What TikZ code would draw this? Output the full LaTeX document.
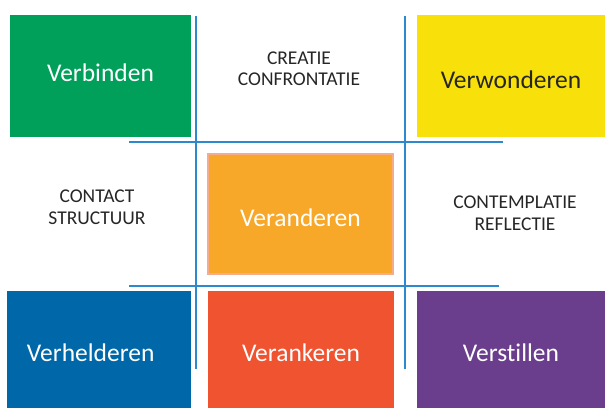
\documentclass[tikz,border=0pt]{standalone}
\usepackage{fontspec}
\setmainfont[Ligatures=NoCommon]{Carlito}
\definecolor{groen}{RGB}{0,160,90}
\definecolor{geel}{RGB}{248,224,10}
\definecolor{oranje}{RGB}{247,168,41}
\definecolor{zalm}{RGB}{244,172,140}
\definecolor{rood}{RGB}{239,83,48}
\definecolor{blauw}{RGB}{0,104,168}
\definecolor{paars}{RGB}{106,62,140}
\definecolor{lijnblauw}{RGB}{44,138,204}
\definecolor{tekst}{RGB}{38,38,38}

\begin{document}
\begin{tikzpicture}[x=1pt,y=-1pt,
    vak/.style={draw=none,inner sep=0pt,text=white,
        font=\fontsize{25.5}{30}\selectfont,text height=24pt,text depth=0pt},
    woord/.style={align=center,text=tekst,font=\fontsize{19.5}{21.5}\selectfont},
    lijn/.style={draw=lijnblauw,line width=1.2pt}]
    \useasboundingbox (0,0) rectangle (605,408);

    % kruis
    \coordinate (v1a) at (196,16);  \coordinate (v1b) at (196,369);
    \coordinate (v2a) at (405,16);  \coordinate (v2b) at (405,369);
    \coordinate (h1a) at (129,142); \coordinate (h1b) at (503,142);
    \coordinate (h2a) at (129,286); \coordinate (h2b) at (499,286);
    \foreach \a/\b in {v1a/v1b,v2a/v2b,h1a/h1b,h2a/h2b}{
        \draw[lijn] (\a) -- (\b);
    }

    % bovenste rij
    \node[vak,fill=groen,text height=10pt,minimum width=181pt,minimum height=122pt] (verbinden) at (100.5,76) {Verbinden};
    \node[woord] (creatie) at (299,68.5) {CREATIE\\CONFRONTATIE};
    \node[vak,fill=geel,text=tekst,minimum width=188pt,minimum height=122pt] (verwonderen) at (511,76) {Verwonderen};

    % middelste rij
    \node[woord] (contact) at (97,207) {CONTACT\\STRUCTUUR};
    \node[vak,fill=oranje,draw=zalm,line width=1.5pt,minimum width=185pt,minimum height=120pt] (veranderen) at (300.5,214) {Veranderen};
    \node[woord] (contemplatie) at (515,213) {CONTEMPLATIE\\REFLECTIE};

    % onderste rij
    \node[vak,fill=blauw,minimum height=117pt,text width=144pt,inner xsep=20pt,align=left] (verhelderen) at (99,349.5) {Verhelderen};
    \node[vak,fill=rood,minimum width=186pt,minimum height=117pt] (verankeren) at (301,349.5) {Verankeren};
    \node[vak,fill=paars,minimum width=188pt,minimum height=117pt] (verstillen) at (511,349.5) {Verstillen};
\end{tikzpicture}
\end{document}
